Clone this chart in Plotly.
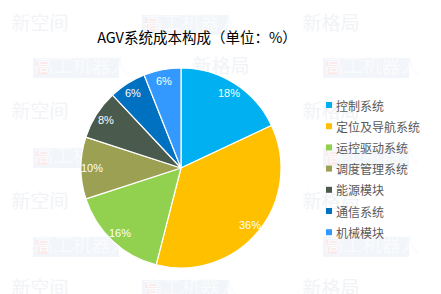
import math
import plotly.graph_objects as go

categories = ["控制系统", "定位及导航系统", "运控驱动系统", "调度管理系统", "能源模块", "通信系统", "机械模块"]
values = [18, 36, 16, 10, 8, 6, 6]
colors = ["#00B0F0", "#FFC000", "#92D050", "#9BA052", "#4A5A4C", "#0070C0", "#3399FF"]
title_text = "AGV系统成本构成（单位：%）"

W, H = 441, 294
CX, CY, R = 181, 168, 100          # pie centre / radius in pixels
LABEL_R = 0.89                     # label radius as fraction of R
LEG_X, LEG_Y0, LEG_DY = 329, 105, 21.2

fig = go.Figure()

# ---- faint background watermarks (decoration, beneath everything) ----
wm = []
for y in [25, 113, 203, 290]:
    wm += [(40, y, "新空间"), (185, y, "高工机器人"), (331, y, "新格局")]
for i, y in enumerate([68, 158, 247]):
    wm += [(76, y, "高工机器人"), (221, y, "新格局" if i % 2 == 0 else "新空间"), (366, y, "高工机器人")]
# drop those hidden behind the pie
wm = [w for w in wm if math.hypot(w[0] - CX, w[1] - CY) > R + 5]

shapes = []
wx, wy, wt, wc = [], [], [], []
for x, y, t in wm:
    if t == "高工机器人":
        shapes.append(dict(type="rect", xref="x", yref="y", x0=x - 43, x1=x + 43, y0=y - 10, y1=y + 10,
                           fillcolor="#F2F5F9", line=dict(width=0), layer="below"))
        shapes.append(dict(type="rect", xref="x", yref="y", x0=x - 40, x1=x - 29, y0=y - 7, y1=y + 7,
                           fillcolor="#FBEBEB", line=dict(width=0), layer="below"))
        wx.append(x + 6); wy.append(y); wt.append(t); wc.append("#FAFBFD")
    else:
        wx.append(x); wy.append(y); wt.append(t); wc.append("#F1F3F6")

fig.add_trace(go.Scatter(
    x=wx, y=wy, text=wt, mode="text",
    textfont=dict(family="Noto Sans CJK SC", size=19, color=wc),
    showlegend=False, hoverinfo="skip",
))

# ---- the pie ----
fig.add_trace(go.Pie(
    labels=categories,
    values=values,
    marker=dict(colors=colors, line=dict(color="white", width=1.2)),
    sort=False,
    direction="clockwise",
    rotation=0,
    textinfo="none",
    domain=dict(x=[(CX - R) / W, (CX + R) / W], y=[(H - CY - R) / H, (H - CY + R) / H]),
    hoverinfo="label+value",
    showlegend=False,
))

# ---- slice labels at mid-angle ----
annotations = []
total = sum(values)
cum = 0
for v in values:
    mid = (cum + v / 2) / total * 2 * math.pi
    cum += v
    annotations.append(dict(
        x=CX + LABEL_R * R * math.sin(mid), y=CY - LABEL_R * R * math.cos(mid),
        xref="x", yref="y", text=f"{v}%", showarrow=False,
        font=dict(family="Liberation Sans", size=11, color="white"),
    ))

# ---- custom legend ----
leg_y = [LEG_Y0 + LEG_DY * i for i in range(len(categories))]
fig.add_trace(go.Scatter(
    x=[LEG_X] * len(categories), y=leg_y, mode="markers",
    marker=dict(symbol="square", size=6, color=colors, line=dict(width=0)),
    showlegend=False, hoverinfo="skip",
))
for name, y in zip(categories, leg_y):
    annotations.append(dict(
        x=LEG_X + 5, y=y, xref="x", yref="y", text=name, showarrow=False,
        xanchor="left", yanchor="middle",
        font=dict(family="Noto Sans CJK SC", size=12, color="#595959"),
    ))

fig.update_layout(
    width=W, height=H,
    margin=dict(l=0, r=0, t=0, b=0),
    paper_bgcolor="white", plot_bgcolor="rgba(0,0,0,0)",
    xaxis=dict(range=[0, W], visible=False, domain=[0, 1], fixedrange=True),
    yaxis=dict(range=[H, 0], visible=False, domain=[0, 1], fixedrange=True),
    shapes=shapes,
    annotations=annotations,
    title=dict(text=title_text, x=197 / W, xanchor="center", y=1 - 38 / H, yanchor="middle",
               font=dict(family="Noto Sans CJK SC", size=14.5, color="black")),
    showlegend=False,
)

fig.write_html("out.html")
